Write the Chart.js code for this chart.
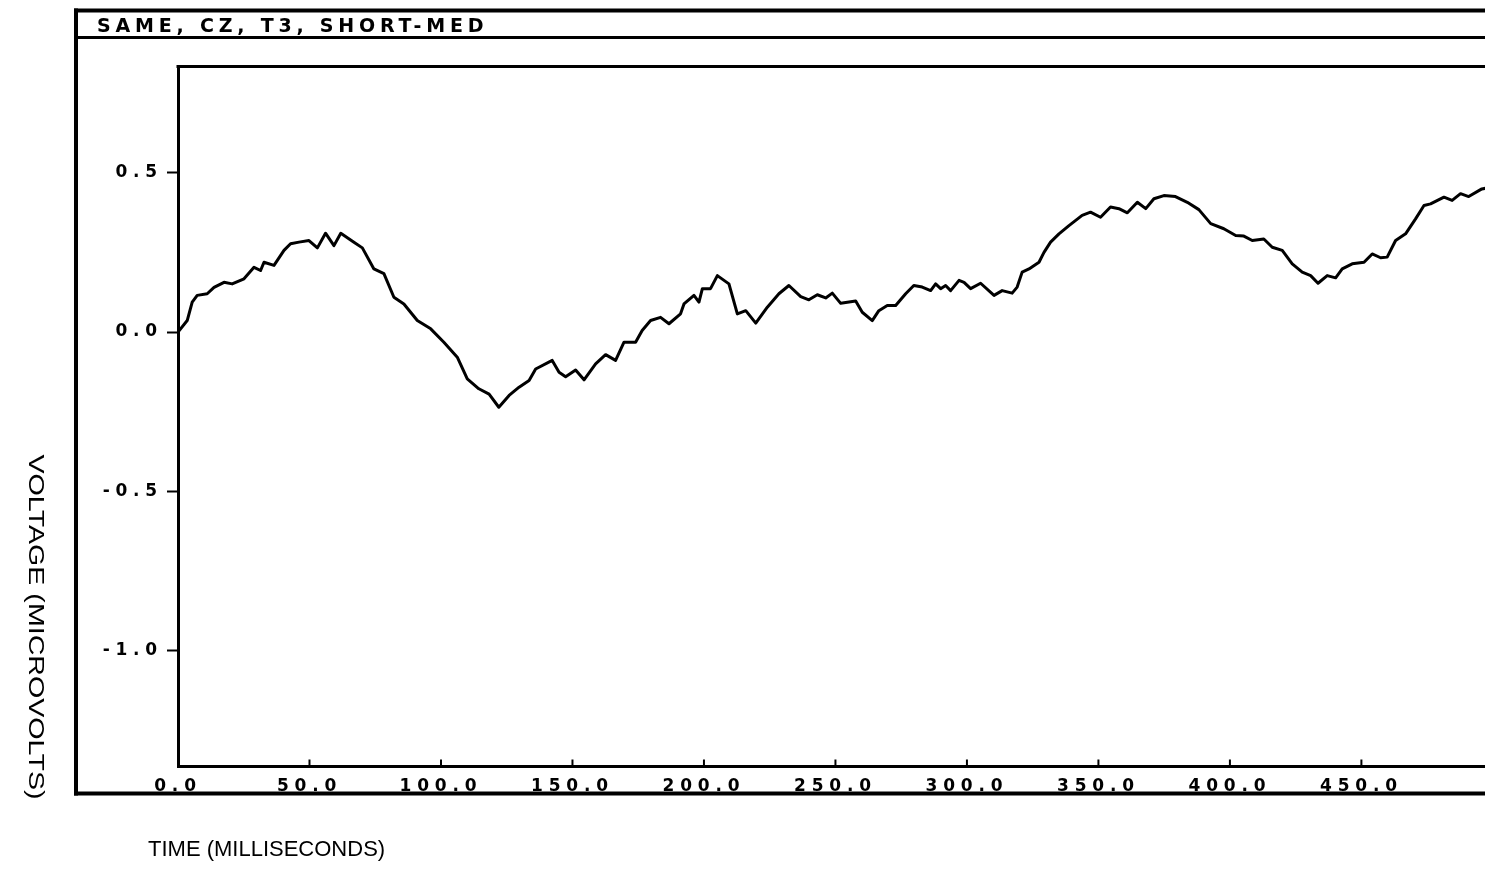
<!DOCTYPE html>
<html>
<head>
<meta charset="utf-8">
<script src="https://cdn.jsdelivr.net/npm/chart.js@4/dist/chart.umd.min.js"></script>
<style>
  html, body { margin: 0; padding: 0; background: #fff; overflow: hidden; }
  #wrap { position: relative; width: 1485px; height: 869px; }
</style>
</head>
<body>
<div id="wrap"><canvas id="c" width="1485" height="869"></canvas></div>
<script>
// Averaged evoked response, channel CZ
const TITLE = 'SAME, CZ, T3, SHORT-MED';
const X_TITLE = 'TIME (MILLISECONDS)';
const Y_TITLE = 'VOLTAGE (MICROVOLTS)';

const TIME_MS = [
  0, 3.5, 5.4, 7.3, 11.1, 13.7, 17.5, 20.6, 25.1, 28.9, 31.4, 32.7, 36.5, 40.3, 42.8, 46.0,
  49.8, 53.0, 56.1, 59.3, 61.9, 66.9, 70.1, 74.5, 78.3, 82.1, 85.9, 91.0, 96.1, 101.1, 106.2,
  110.0, 114.4, 118.3, 122.0, 125.9, 129.7, 133.5, 136.0, 142.3, 144.9, 147.4, 151.2, 154.4,
  158.8, 162.6, 166.4, 169.6, 174.0, 176.5, 179.7, 183.5, 186.7, 191.1, 192.4, 196.2, 198.1,
  199.4, 202.5, 205.1, 209.5, 212.7, 215.9, 219.7, 224.1, 228.5, 232.3, 236.8, 239.9, 243.1,
  246.3, 248.8, 252.0, 257.7, 260.2, 264.0, 266.5, 269.7, 272.9, 276.7, 279.8, 283.0, 286.2,
  288.1, 290.0, 291.9, 293.8, 297.0, 298.9, 301.4, 305.2, 310.3, 313.4, 317.2, 319.1, 321.0,
  323.6, 327.4, 329.3, 331.8, 335.0, 338.8, 343.8, 347.0, 350.8, 354.6, 357.8, 361.0, 364.8,
  368.0, 371.1, 374.9, 379.3, 383.8, 388.2, 392.7, 397.7, 402.2, 405.3, 408.5, 412.9, 416.1,
  419.9, 423.7, 427.5, 430.7, 433.5, 437.0, 440.2, 442.7, 446.5, 451.0, 454.1, 457.3, 459.8,
  463.0, 466.8, 470.6, 473.8, 476.3, 481.4, 484.5, 487.7, 490.8, 495.8, 498.0
];
const VOLTAGE_UV = [
  0.000, 0.036, 0.094, 0.115, 0.120, 0.140, 0.156, 0.151, 0.167, 0.203, 0.193, 0.219, 0.209, 0.256, 0.277, 0.282,
  0.287, 0.264, 0.310, 0.271, 0.310, 0.282, 0.264, 0.198, 0.183, 0.109, 0.088, 0.036, 0.010, -0.032, -0.079,
  -0.147, -0.178, -0.195, -0.236, -0.199, -0.173, -0.152, -0.116, -0.089, -0.126, -0.140, -0.119, -0.150,
  -0.100, -0.071, -0.089, -0.032, -0.032, 0.005, 0.036, 0.046, 0.026, 0.057, 0.088, 0.115, 0.094,
  0.136, 0.136, 0.177, 0.151, 0.057, 0.067, 0.028, 0.078, 0.120, 0.146, 0.111, 0.101, 0.117,
  0.107, 0.122, 0.090, 0.097, 0.062, 0.036, 0.067, 0.083, 0.083, 0.120, 0.146, 0.141, 0.130,
  0.151, 0.136, 0.146, 0.130, 0.162, 0.156, 0.136, 0.153, 0.115, 0.130, 0.122, 0.141, 0.188,
  0.198, 0.219, 0.250, 0.282, 0.308, 0.334, 0.366, 0.376, 0.360, 0.392, 0.387, 0.374, 0.407,
  0.387, 0.418, 0.428, 0.425, 0.407, 0.384, 0.340, 0.324, 0.303, 0.301, 0.287, 0.292, 0.266,
  0.256, 0.214, 0.188, 0.177, 0.153, 0.177, 0.170, 0.198, 0.214, 0.219, 0.245, 0.233, 0.235,
  0.287, 0.308, 0.355, 0.397, 0.402, 0.423, 0.413, 0.434, 0.425, 0.449, 0.452
];

const X_TICKS = [0, 50, 100, 150, 200, 250, 300, 350, 400, 450];
const Y_TICKS = [-1.0, -0.5, 0.0, 0.5];
const X_RANGE = [0, 497];
const Y_RANGE = [-1.363, 0.833];

const plotterFont = { family: '"DejaVu Sans", sans-serif', size: 17, weight: 'bold' };

function seg(ctx, x1, y1, x2, y2, w) {
  ctx.lineWidth = w;
  ctx.beginPath();
  ctx.moveTo(x1, y1);
  ctx.lineTo(x2, y2);
  ctx.stroke();
}

// Plotter-style frame, title strip, inward x tick marks and axis captions
const framePlugin = {
  id: 'plotterFrame',
  beforeDraw(chart) {
    chart.ctx.letterSpacing = '5.8px';
  },
  afterDraw(chart) {
    const ctx = chart.ctx;
    const a = chart.chartArea;
    const xs = chart.scales.x;
    ctx.save();
    ctx.letterSpacing = '0px';
    ctx.strokeStyle = '#000';
    ctx.fillStyle = '#000';
    ctx.lineCap = 'butt';

    // outer frame
    seg(ctx, 76, 8.5, 76, 795.5, 4);
    seg(ctx, 74, 10.5, 1485, 10.5, 4);
    seg(ctx, 76, 37.5, 1485, 37.5, 3);
    seg(ctx, 74, 793.5, 1485, 793.5, 4);

    // top edge of the plot box
    seg(ctx, a.left - 1.5, a.top, a.right, a.top, 3);

    // x ticks point up into the plot
    X_TICKS.forEach(v => {
      const px = xs.getPixelForValue(v);
      seg(ctx, px, a.bottom, px, a.bottom - 7, 2);
    });

    // title strip text
    ctx.font = 'bold 19px "DejaVu Sans", sans-serif';
    ctx.letterSpacing = '4.8px';
    ctx.textAlign = 'left';
    ctx.textBaseline = 'alphabetic';
    ctx.fillText(TITLE, 97, 32);

    // axis captions
    ctx.letterSpacing = '0px';
    ctx.font = '22px "Liberation Sans", Arial, sans-serif';
    ctx.textBaseline = 'middle';
    ctx.textAlign = 'left';
    ctx.fillText(X_TITLE, 148, 850);

    ctx.save();
    ctx.translate(35, 627);
    ctx.rotate(Math.PI / 2);
    const w = ctx.measureText(Y_TITLE).width;
    ctx.scale(345 / w, 1);
    ctx.textAlign = 'center';
    ctx.fillText(Y_TITLE, 0, 0);
    ctx.restore();

    ctx.restore();
  }
};

new Chart(document.getElementById('c'), {
  type: 'line',
  data: {
    datasets: [{
      data: TIME_MS.map((t, i) => ({ x: t, y: VOLTAGE_UV[i] })),
      borderColor: '#000',
      borderWidth: 3,
      pointRadius: 0,
      tension: 0,
      borderJoinStyle: 'round',
      borderCapStyle: 'round'
    }]
  },
  options: {
    responsive: false,
    animation: false,
    devicePixelRatio: 1,
    layout: { padding: { top: 66.5, left: 0, right: 0, bottom: 0 } },
    plugins: { legend: { display: false }, tooltip: { enabled: false }, title: { display: false } },
    scales: {
      x: {
        type: 'linear',
        min: X_RANGE[0],
        max: X_RANGE[1],
        afterFit(s) { s.height = 102.5; },
        afterBuildTicks(s) { s.ticks = X_TICKS.map(v => ({ value: v })); },
        grid: { display: false },
        border: { display: true, color: '#000', width: 3 },
        ticks: {
          color: '#000',
          font: plotterFont,
          padding: 2,
          maxRotation: 0,
          autoSkip: false,
          callback: v => Number(v).toFixed(1)
        }
      },
      y: {
        type: 'linear',
        min: Y_RANGE[0],
        max: Y_RANGE[1],
        afterFit(s) { s.width = 178; },
        afterBuildTicks(s) { s.ticks = Y_TICKS.map(v => ({ value: v })); },
        grid: { display: true, drawOnChartArea: false, drawTicks: true, tickLength: 11, tickWidth: 2, tickColor: '#000' },
        border: { display: true, color: '#000', width: 3 },
        ticks: {
          color: '#000',
          font: plotterFont,
          padding: 4,
          autoSkip: false,
          callback: v => Number(v).toFixed(1)
        }
      }
    }
  },
  plugins: [framePlugin]
});
</script>
</body>
</html>
